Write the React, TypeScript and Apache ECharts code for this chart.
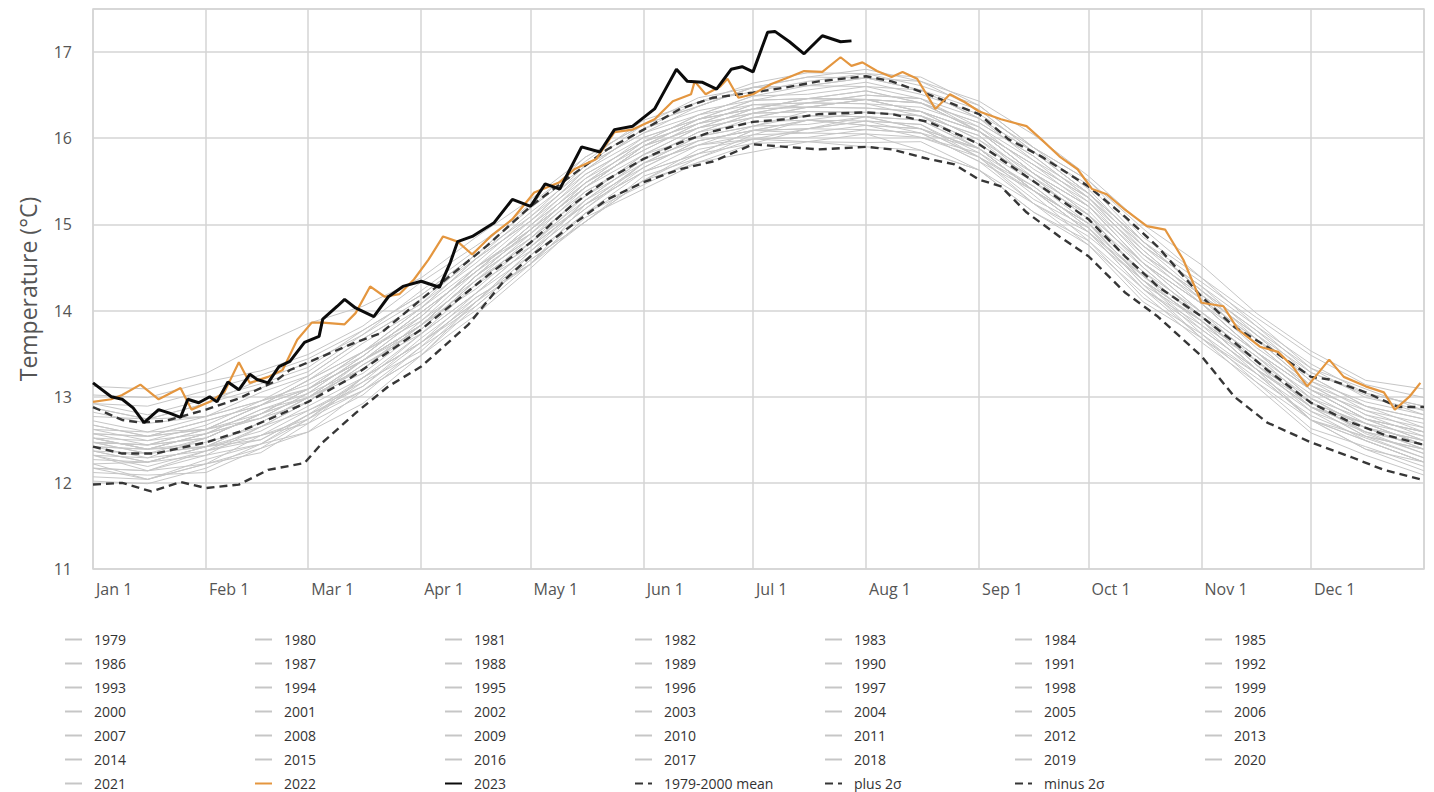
import React, { useEffect, useRef } from "react";
import * as echarts from "echarts";

// ---- axis definitions ----
const monthStartDays = [0, 31, 59, 90, 120, 151, 181, 212, 243, 273, 304, 334];
const monthLabels = ["Jan 1", "Feb 1", "Mar 1", "Apr 1", "May 1", "Jun 1", "Jul 1", "Aug 1", "Sep 1", "Oct 1", "Nov 1", "Dec 1"];
const dayCategories = Array.from({ length: 366 }, (_, i) => String(i));

// ---- gray years (sampled day of year) ----
const grayDays = [0, 15, 31, 46, 59, 74, 90, 105, 120, 135, 151, 166, 181, 196, 212, 227, 243, 258, 273, 288, 304, 319, 334, 349, 365];

const y1979 = [12.12, 12.09, 12.12, 12.40, 12.74, 13.07, 13.48, 14.10, 14.54, 15.03, 15.56, 15.77, 16.04, 16.06, 16.05, 16.01, 15.78, 15.24, 14.86, 14.35, 13.73, 13.27, 12.83, 12.49, 12.24];
const y1980 = [12.32, 12.14, 12.37, 12.55, 12.69, 13.22, 13.63, 14.10, 14.69, 15.18, 15.71, 15.92, 15.99, 16.11, 16.20, 16.16, 15.78, 15.29, 14.96, 14.30, 13.68, 13.22, 12.78, 12.52, 12.29];
const y1981 = [12.22, 12.24, 12.42, 12.50, 12.79, 13.12, 13.68, 14.15, 14.54, 15.23, 15.61, 15.82, 16.09, 16.21, 16.15, 16.01, 15.83, 15.34, 14.81, 14.25, 13.83, 13.27, 12.73, 12.39, 12.14];
const y1982 = [12.07, 12.04, 12.22, 12.40, 12.59, 13.07, 13.48, 14.05, 14.59, 15.03, 15.51, 15.82, 15.94, 16.11, 16.10, 16.06, 15.73, 15.39, 14.91, 14.40, 13.83, 13.42, 12.88, 12.69, 12.44];
const y1983 = [12.47, 12.44, 12.62, 12.75, 13.04, 13.32, 13.83, 14.25, 14.79, 15.23, 15.71, 15.92, 16.04, 16.21, 16.20, 16.06, 15.88, 15.39, 14.91, 14.25, 13.78, 13.32, 12.73, 12.49, 12.24];
const y1984 = [12.22, 12.04, 12.22, 12.35, 12.69, 13.02, 13.58, 14.00, 14.54, 15.13, 15.46, 15.77, 15.99, 15.96, 16.05, 15.86, 15.63, 15.24, 14.76, 14.10, 13.68, 13.12, 12.58, 12.32, 12.09];
const y1985 = [12.02, 11.99, 12.17, 12.45, 12.59, 12.92, 13.48, 13.95, 14.49, 15.08, 15.41, 15.72, 15.94, 15.96, 15.95, 15.96, 15.63, 15.14, 14.81, 14.15, 13.73, 13.17, 12.63, 12.42, 12.19];
const y1986 = [12.17, 12.04, 12.27, 12.45, 12.79, 13.07, 13.58, 14.15, 14.54, 15.13, 15.61, 15.82, 16.09, 16.06, 16.15, 16.11, 15.78, 15.44, 14.96, 14.30, 13.88, 13.32, 12.93, 12.59, 12.44];
const y1987 = [12.42, 12.39, 12.42, 12.70, 12.99, 13.27, 13.78, 14.35, 14.74, 15.33, 15.81, 16.02, 16.14, 16.31, 16.30, 16.26, 16.03, 15.49, 15.11, 14.40, 13.93, 13.47, 12.93, 12.57, 12.34];
const y1988 = [12.52, 12.39, 12.57, 12.75, 12.94, 13.42, 13.83, 14.30, 14.84, 15.33, 15.71, 16.02, 16.24, 16.26, 16.25, 16.21, 15.88, 15.39, 15.01, 14.35, 13.78, 13.32, 12.73, 12.49, 12.24];
const y1989 = [12.17, 12.14, 12.22, 12.55, 12.74, 13.22, 13.63, 14.10, 14.69, 15.18, 15.66, 15.97, 16.09, 16.11, 16.25, 16.11, 15.88, 15.39, 15.01, 14.45, 13.88, 13.32, 12.88, 12.64, 12.39];
const y1990 = [12.42, 12.29, 12.52, 12.80, 12.99, 13.32, 13.88, 14.35, 14.79, 15.28, 15.76, 16.07, 16.19, 16.21, 16.30, 16.26, 15.93, 15.54, 15.16, 14.50, 13.93, 13.47, 13.03, 12.69, 12.44];
const y1991 = [12.42, 12.39, 12.47, 12.65, 12.94, 13.37, 13.73, 14.30, 14.69, 15.28, 15.76, 15.97, 16.09, 16.21, 16.15, 16.11, 15.78, 15.39, 15.01, 14.35, 13.88, 13.42, 12.88, 12.54, 12.39];
const y1992 = [12.37, 12.24, 12.42, 12.55, 12.84, 13.12, 13.63, 14.05, 14.59, 15.03, 15.51, 15.72, 15.84, 15.96, 15.90, 15.86, 15.63, 15.14, 14.76, 14.20, 13.63, 13.17, 12.73, 12.39, 12.24];
const y1993 = [12.17, 12.14, 12.32, 12.45, 12.74, 13.17, 13.53, 14.10, 14.64, 15.13, 15.51, 15.87, 15.99, 16.01, 16.10, 16.06, 15.73, 15.24, 14.91, 14.25, 13.68, 13.27, 12.73, 12.54, 12.29];
const y1994 = [12.27, 12.24, 12.32, 12.65, 12.84, 13.17, 13.73, 14.20, 14.74, 15.23, 15.61, 15.92, 16.14, 16.16, 16.25, 16.21, 15.88, 15.39, 15.01, 14.45, 13.98, 13.42, 12.98, 12.64, 12.49];
const y1995 = [12.52, 12.39, 12.57, 12.85, 12.99, 13.42, 13.78, 14.35, 14.89, 15.38, 15.76, 16.07, 16.29, 16.31, 16.30, 16.26, 15.88, 15.49, 15.01, 14.35, 13.88, 13.42, 12.88, 12.64, 12.39];
const y1996 = [12.32, 12.19, 12.37, 12.50, 12.79, 13.22, 13.73, 14.20, 14.64, 15.28, 15.66, 15.97, 16.09, 16.11, 16.20, 16.16, 15.83, 15.44, 14.96, 14.40, 13.93, 13.37, 12.93, 12.69, 12.54];
const y1997 = [12.47, 12.34, 12.42, 12.70, 12.99, 13.42, 13.83, 14.40, 14.94, 15.43, 15.91, 16.22, 16.34, 16.46, 16.55, 16.41, 16.18, 15.79, 15.31, 14.75, 14.28, 13.72, 13.28, 13.04, 12.89];
const y1998 = [12.92, 12.89, 13.07, 13.25, 13.44, 13.77, 14.18, 14.65, 15.09, 15.58, 15.96, 16.17, 16.39, 16.36, 16.45, 16.31, 15.98, 15.49, 15.11, 14.40, 13.93, 13.37, 12.83, 12.59, 12.34];
const y1999 = [12.37, 12.24, 12.42, 12.60, 12.89, 13.22, 13.63, 14.20, 14.74, 15.23, 15.71, 16.02, 16.14, 16.26, 16.25, 16.11, 15.88, 15.39, 14.91, 14.35, 13.88, 13.32, 12.88, 12.54, 12.39];
const y2000 = [12.32, 12.29, 12.37, 12.65, 12.94, 13.37, 13.78, 14.35, 14.79, 15.38, 15.76, 16.07, 16.29, 16.31, 16.30, 16.26, 15.93, 15.54, 15.06, 14.40, 13.93, 13.47, 12.93, 12.69, 12.44];
const y2001 = [12.47, 12.44, 12.52, 12.80, 13.09, 13.42, 13.83, 14.40, 14.94, 15.43, 15.81, 16.12, 16.34, 16.36, 16.45, 16.31, 15.98, 15.59, 15.21, 14.55, 14.08, 13.52, 13.08, 12.84, 12.59];
const y2002 = [12.62, 12.49, 12.67, 12.95, 13.09, 13.52, 13.88, 14.45, 14.99, 15.48, 15.86, 16.17, 16.39, 16.41, 16.40, 16.36, 16.13, 15.64, 15.26, 14.70, 14.13, 13.57, 13.13, 12.79, 12.64];
const y2003 = [12.62, 12.59, 12.62, 12.90, 13.09, 13.42, 13.93, 14.50, 14.89, 15.48, 15.96, 16.17, 16.29, 16.41, 16.50, 16.46, 16.08, 15.69, 15.21, 14.55, 14.08, 13.62, 13.08, 12.74, 12.59];
const y2004 = [12.57, 12.44, 12.52, 12.80, 13.09, 13.42, 13.83, 14.40, 14.84, 15.43, 15.91, 16.12, 16.24, 16.36, 16.35, 16.31, 16.08, 15.59, 15.21, 14.65, 14.08, 13.52, 13.08, 12.74, 12.49];
const y2005 = [12.57, 12.54, 12.72, 12.90, 13.09, 13.52, 14.03, 14.50, 14.94, 15.53, 16.01, 16.22, 16.34, 16.46, 16.55, 16.41, 16.08, 15.69, 15.31, 14.75, 14.18, 13.62, 13.08, 12.74, 12.59];
const y2006 = [12.47, 12.44, 12.62, 12.80, 13.09, 13.42, 13.93, 14.50, 14.94, 15.43, 15.91, 16.22, 16.34, 16.36, 16.45, 16.41, 16.08, 15.69, 15.31, 14.65, 14.18, 13.72, 13.18, 12.94, 12.79];
const y2007 = [12.77, 12.74, 12.77, 12.95, 13.14, 13.47, 13.98, 14.45, 14.89, 15.48, 15.86, 16.17, 16.29, 16.41, 16.40, 16.26, 16.03, 15.54, 15.06, 14.50, 13.93, 13.37, 12.93, 12.59, 12.44];
const y2008 = [12.37, 12.34, 12.42, 12.70, 12.99, 13.32, 13.83, 14.40, 14.84, 15.33, 15.81, 16.12, 16.24, 16.36, 16.35, 16.31, 16.08, 15.59, 15.11, 14.55, 13.98, 13.52, 12.98, 12.64, 12.49];
const y2009 = [12.52, 12.39, 12.57, 12.85, 13.04, 13.47, 13.98, 14.45, 14.99, 15.58, 15.96, 16.27, 16.49, 16.51, 16.60, 16.46, 16.23, 15.84, 15.36, 14.80, 14.23, 13.77, 13.33, 12.99, 12.84];
const y2010 = [12.87, 12.74, 12.92, 13.10, 13.29, 13.72, 14.13, 14.60, 15.04, 15.63, 16.01, 16.22, 16.44, 16.46, 16.45, 16.41, 16.08, 15.59, 15.21, 14.55, 14.08, 13.52, 12.98, 12.74, 12.49];
const y2011 = [12.47, 12.34, 12.52, 12.80, 12.99, 13.42, 13.83, 14.40, 14.94, 15.43, 15.91, 16.12, 16.34, 16.46, 16.45, 16.31, 16.08, 15.59, 15.11, 14.55, 13.98, 13.52, 13.08, 12.74, 12.59];
const y2012 = [12.52, 12.49, 12.57, 12.75, 13.04, 13.47, 13.98, 14.45, 14.99, 15.48, 15.96, 16.27, 16.39, 16.41, 16.50, 16.46, 16.13, 15.74, 15.26, 14.60, 14.13, 13.67, 13.13, 12.79, 12.54];
const y2013 = [12.57, 12.54, 12.62, 12.90, 13.19, 13.52, 13.93, 14.50, 15.04, 15.53, 15.91, 16.22, 16.44, 16.46, 16.45, 16.41, 16.18, 15.79, 15.31, 14.65, 14.18, 13.72, 13.18, 12.84, 12.69];
const y2014 = [12.67, 12.54, 12.62, 12.90, 13.19, 13.52, 14.03, 14.60, 15.04, 15.63, 16.11, 16.32, 16.44, 16.56, 16.65, 16.51, 16.28, 15.89, 15.41, 14.75, 14.28, 13.82, 13.38, 13.04, 12.89];
const y2015 = [12.82, 12.69, 12.77, 13.05, 13.24, 13.67, 14.08, 14.65, 15.19, 15.68, 16.16, 16.37, 16.59, 16.71, 16.70, 16.66, 16.43, 16.04, 15.56, 15.00, 14.53, 13.97, 13.53, 13.19, 13.09];
const y2016 = [13.12, 13.09, 13.27, 13.60, 13.85, 14.05, 14.38, 14.85, 15.29, 15.78, 16.16, 16.47, 16.59, 16.71, 16.80, 16.66, 16.33, 15.84, 15.36, 14.80, 14.23, 13.77, 13.23, 12.89, 12.74];
const y2017 = [12.92, 12.79, 12.97, 13.15, 13.34, 13.77, 14.18, 14.65, 15.19, 15.68, 16.06, 16.37, 16.59, 16.61, 16.70, 16.56, 16.23, 15.84, 15.36, 14.80, 14.23, 13.67, 13.23, 12.89, 12.74];
const y2018 = [12.72, 12.59, 12.77, 12.95, 13.24, 13.67, 14.08, 14.55, 15.09, 15.68, 16.06, 16.27, 16.49, 16.61, 16.60, 16.56, 16.33, 15.84, 15.46, 14.80, 14.33, 13.87, 13.33, 13.09, 12.84];
const y2019 = [12.87, 12.74, 12.92, 13.20, 13.39, 13.72, 14.23, 14.70, 15.24, 15.73, 16.21, 16.42, 16.64, 16.76, 16.75, 16.71, 16.38, 15.89, 15.51, 14.95, 14.38, 13.92, 13.48, 13.14, 12.99];
const y2020 = [13.02, 12.99, 13.17, 13.30, 13.49, 13.82, 14.33, 14.75, 15.19, 15.78, 16.16, 16.37, 16.59, 16.61, 16.70, 16.56, 16.23, 15.74, 15.36, 14.70, 14.13, 13.67, 13.13, 12.89, 12.64];
const y2021 = [12.67, 12.54, 12.72, 12.90, 13.19, 13.62, 14.03, 14.60, 15.14, 15.63, 16.11, 16.42, 16.54, 16.66, 16.75, 16.61, 16.38, 15.89, 15.51, 14.85, 14.38, 13.82, 13.28, 13.02, 12.79];

const grayYears = [
  { name: "1979", values: y1979 }, { name: "1980", values: y1980 }, { name: "1981", values: y1981 },
  { name: "1982", values: y1982 }, { name: "1983", values: y1983 }, { name: "1984", values: y1984 },
  { name: "1985", values: y1985 }, { name: "1986", values: y1986 }, { name: "1987", values: y1987 },
  { name: "1988", values: y1988 }, { name: "1989", values: y1989 }, { name: "1990", values: y1990 },
  { name: "1991", values: y1991 }, { name: "1992", values: y1992 }, { name: "1993", values: y1993 },
  { name: "1994", values: y1994 }, { name: "1995", values: y1995 }, { name: "1996", values: y1996 },
  { name: "1997", values: y1997 }, { name: "1998", values: y1998 }, { name: "1999", values: y1999 },
  { name: "2000", values: y2000 }, { name: "2001", values: y2001 }, { name: "2002", values: y2002 },
  { name: "2003", values: y2003 }, { name: "2004", values: y2004 }, { name: "2005", values: y2005 },
  { name: "2006", values: y2006 }, { name: "2007", values: y2007 }, { name: "2008", values: y2008 },
  { name: "2009", values: y2009 }, { name: "2010", values: y2010 }, { name: "2011", values: y2011 },
  { name: "2012", values: y2012 }, { name: "2013", values: y2013 }, { name: "2014", values: y2014 },
  { name: "2015", values: y2015 }, { name: "2016", values: y2016 }, { name: "2017", values: y2017 },
  { name: "2018", values: y2018 }, { name: "2019", values: y2019 }, { name: "2020", values: y2020 },
  { name: "2021", values: y2021 },
];

// ---- highlighted years ----
const days2022 = [0, 5, 8, 13, 18, 24, 27, 32, 36, 40, 43, 48, 52, 56, 60, 63, 69, 72, 76, 80, 84, 88, 92, 96, 100, 104, 109, 115, 121, 128, 132, 138, 143, 148, 154, 159, 164, 165, 168, 172, 174, 177, 181, 186, 191, 195, 200, 205, 208, 211, 215, 219, 222, 226, 231, 235, 239, 243, 249, 256, 260, 265, 270, 274, 278, 283, 289, 294, 299, 304, 310, 314, 320, 325, 329, 333, 339, 343, 349, 354, 357, 361, 364];
const temps2022 = [12.94, 12.97, 13.02, 13.14, 12.97, 13.10, 12.85, 12.94, 13.05, 13.40, 13.16, 13.23, 13.31, 13.66, 13.86, 13.86, 13.84, 13.97, 14.28, 14.16, 14.19, 14.36, 14.59, 14.86, 14.80, 14.65, 14.86, 15.06, 15.37, 15.49, 15.64, 15.76, 16.07, 16.10, 16.22, 16.43, 16.51, 16.66, 16.51, 16.60, 16.69, 16.47, 16.51, 16.63, 16.71, 16.78, 16.77, 16.94, 16.84, 16.88, 16.78, 16.71, 16.77, 16.69, 16.34, 16.51, 16.42, 16.31, 16.22, 16.14, 15.99, 15.79, 15.64, 15.41, 15.35, 15.17, 14.98, 14.94, 14.59, 14.09, 14.05, 13.78, 13.58, 13.52, 13.35, 13.12, 13.43, 13.23, 13.12, 13.05, 12.85, 13.00, 13.16];

const days2023 = [0, 5, 8, 11, 14, 18, 21, 24, 26, 29, 32, 34, 37, 40, 43, 45, 48, 51, 54, 58, 62, 63, 67, 69, 72, 77, 81, 85, 90, 95, 98, 100, 104, 110, 115, 120, 124, 128, 134, 139, 143, 148, 154, 157, 160, 163, 167, 171, 175, 178, 181, 185, 187, 191, 195, 200, 205, 208];
const temps2023 = [13.16, 13.00, 12.97, 12.87, 12.70, 12.85, 12.81, 12.76, 12.97, 12.93, 13.00, 12.94, 13.17, 13.08, 13.26, 13.20, 13.16, 13.35, 13.41, 13.63, 13.70, 13.90, 14.05, 14.13, 14.03, 13.93, 14.16, 14.28, 14.34, 14.27, 14.56, 14.80, 14.86, 15.02, 15.29, 15.21, 15.47, 15.41, 15.90, 15.84, 16.10, 16.14, 16.34, 16.57, 16.80, 16.66, 16.65, 16.57, 16.80, 16.83, 16.77, 17.23, 17.24, 17.12, 16.98, 17.19, 17.12, 17.13];

// ---- climatology ----
const meanDays = [0, 8, 17, 31, 40, 50, 59, 70, 80, 90, 99, 108, 120, 131, 141, 151, 161, 170, 181, 190, 199, 212, 219, 229, 238, 243, 251, 260, 273, 283, 292, 304, 313, 322, 334, 345, 354, 365];
const meanTemps = [12.42, 12.34, 12.34, 12.47, 12.59, 12.77, 12.94, 13.20, 13.49, 13.78, 14.09, 14.40, 14.79, 15.21, 15.52, 15.76, 15.95, 16.08, 16.19, 16.22, 16.28, 16.30, 16.28, 16.19, 16.03, 15.93, 15.70, 15.44, 15.06, 14.63, 14.28, 13.93, 13.63, 13.31, 12.93, 12.70, 12.56, 12.44];

const plusDays = [0, 8, 13, 20, 31, 40, 50, 54, 63, 72, 79, 90, 99, 108, 120, 131, 141, 151, 161, 170, 181, 190, 199, 212, 219, 229, 238, 243, 251, 260, 273, 283, 292, 304, 313, 322, 334, 339, 349, 358, 365];
const plusTemps = [12.88, 12.73, 12.70, 12.72, 12.85, 12.98, 13.18, 13.31, 13.47, 13.63, 13.74, 14.13, 14.44, 14.75, 15.21, 15.56, 15.87, 16.10, 16.34, 16.47, 16.53, 16.59, 16.66, 16.72, 16.66, 16.51, 16.36, 16.28, 15.99, 15.79, 15.44, 15.09, 14.74, 14.16, 13.81, 13.58, 13.23, 13.20, 13.05, 12.88, 12.88];

const minusDays = [0, 8, 16, 24, 31, 40, 48, 58, 63, 72, 81, 90, 103, 113, 120, 131, 141, 151, 161, 170, 181, 190, 199, 212, 219, 229, 236, 243, 249, 256, 265, 273, 283, 292, 304, 313, 322, 334, 345, 354, 365];
const minusTemps = [11.98, 12.00, 11.90, 12.01, 11.94, 11.98, 12.15, 12.23, 12.47, 12.81, 13.12, 13.35, 13.84, 14.36, 14.63, 14.98, 15.29, 15.49, 15.64, 15.73, 15.93, 15.90, 15.87, 15.90, 15.87, 15.76, 15.70, 15.52, 15.44, 15.14, 14.86, 14.63, 14.21, 13.93, 13.47, 13.00, 12.70, 12.47, 12.30, 12.15, 12.03];

const FONT = "'Open Sans', 'Noto Sans', sans-serif";
const GRID_COLOR = "#d4d4d4";
const GRAY_LINE = "#c6c6c6";
const ORANGE = "#e4963f";
const DASH_COLOR = "#363636";

const pairs = (days: number[], vals: number[]) => days.map((d, i) => [d, vals[i]]);

export default function App() {
  const ref = useRef<HTMLDivElement>(null);

  useEffect(() => {
    if (!ref.current) return;
    const chart = echarts.init(ref.current, undefined, { renderer: "svg" });

    const graySeries = grayYears.map((y) => ({
      name: y.name,
      type: "line",
      symbol: "none",
      silent: true,
      z: 1,
      lineStyle: { color: GRAY_LINE, width: 1 },
      itemStyle: { color: GRAY_LINE },
      data: pairs(grayDays, y.values),
    }));

    const dashed = (name: string, days: number[], vals: number[]) => ({
      name,
      type: "line",
      symbol: "none",
      silent: true,
      z: 3,
      lineStyle: { color: DASH_COLOR, width: 2.4, type: [8, 5] },
      itemStyle: { color: DASH_COLOR },
      data: pairs(days, vals),
    });

    const series: any[] = [
      ...graySeries,
      dashed("1979-2000 mean", meanDays, meanTemps),
      dashed("plus 2σ", plusDays, plusTemps),
      dashed("minus 2σ", minusDays, minusTemps),
      {
        name: "2022",
        type: "line",
        symbol: "none",
        silent: true,
        z: 4,
        lineStyle: { color: ORANGE, width: 2.2 },
        itemStyle: { color: ORANGE },
        data: pairs(days2022, temps2022),
      },
      {
        name: "2023",
        type: "line",
        symbol: "none",
        silent: true,
        z: 5,
        lineStyle: { color: "#0b0b0b", width: 3 },
        itemStyle: { color: "#0b0b0b" },
        data: pairs(days2023, temps2023),
      },
    ];

    const legendNames = [
      ...grayYears.map((y) => y.name),
      "2022",
      "2023",
      "1979-2000 mean",
      "plus 2σ",
      "minus 2σ",
    ];
    const colX = [64, 254, 444, 634, 824, 1014, 1204];
    const legends = colX.map((x, c) => ({
      orient: "vertical",
      left: x,
      top: 632,
      padding: 0,
      height: 160,
      itemWidth: 17,
      itemHeight: 14,
      itemGap: 9,
      selectedMode: false,
      itemStyle: { opacity: 0 },
      textStyle: { fontSize: 14, color: "#333", fontFamily: FONT, lineHeight: 15, padding: [0, 0, 0, 7] },
      data: legendNames.filter((_, i) => i % 7 === c),
    }));

    chart.setOption({
      animation: false,
      textStyle: { fontFamily: FONT },
      grid: {
        left: 93,
        right: 10,
        top: 9,
        bottom: 223,
        show: true,
        borderColor: GRID_COLOR,
        borderWidth: 1.5,
      },
      legend: legends,
      xAxis: {
        type: "category",
        boundaryGap: false,
        data: dayCategories,
        axisLine: { show: false },
        axisTick: { show: false },
        axisLabel: {
          interval: (i: number) => monthStartDays.includes(i),
          formatter: (_v: string, i: number) => {
            const k = monthStartDays.indexOf(i);
            return k >= 0 ? monthLabels[k] : "";
          },
          align: "left",
          margin: 12,
          padding: [0, 0, 0, 3],
          fontSize: 16,
          color: "#555",
          fontFamily: FONT,
        },
        splitLine: {
          show: true,
          interval: (i: number) => monthStartDays.includes(i) || i === 365,
          lineStyle: { color: GRID_COLOR, width: 1.5 },
        },
      },
      yAxis: {
        type: "value",
        min: 11,
        max: 17.5,
        interval: 1,
        name: "Temperature (°C)",
        nameLocation: "middle",
        nameGap: 54,
        nameTextStyle: { fontSize: 23, color: "#555", fontFamily: FONT },
        axisLine: { show: false },
        axisTick: { show: false },
        axisLabel: {
          formatter: (v: number) => (Number.isInteger(v) ? String(v) : ""),
          margin: 21,
          fontSize: 16,
          color: "#555",
          fontFamily: FONT,
        },
        splitLine: { show: true, lineStyle: { color: GRID_COLOR, width: 1.5 } },
      },
      series,
    });

    return () => chart.dispose();
  }, []);

  return (
    <div
      ref={ref}
      style={{ position: "absolute", left: 0, top: 0, width: 1434, height: 792, background: "#fff" }}
    />
  );
}
